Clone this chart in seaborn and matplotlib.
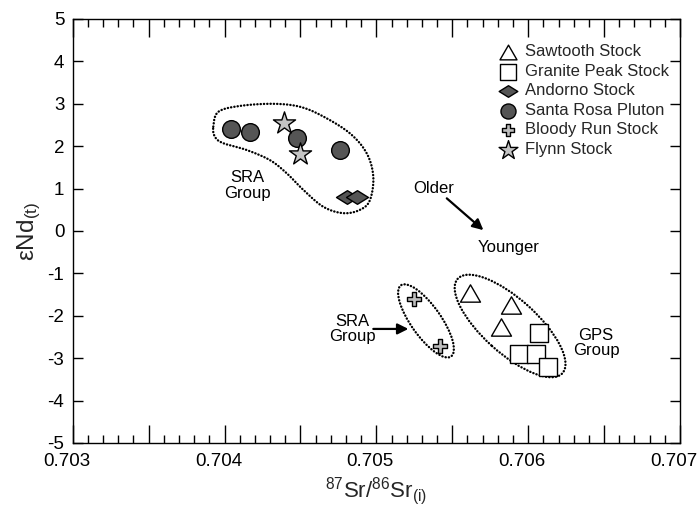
import numpy as np
import pandas as pd
import matplotlib
matplotlib.use("Agg")
import matplotlib.pyplot as plt
import seaborn as sns
from matplotlib.path import Path
from matplotlib.patches import Ellipse, PathPatch
from matplotlib.transforms import ScaledTranslation
from matplotlib.ticker import MultipleLocator, FuncFormatter

# ---------------- data ----------------
sawtooth_x = [0.70562, 0.70589, 0.70582]
sawtooth_y = [-1.47, -1.75, -2.26]
granite_x = [0.70607, 0.70594, 0.70605, 0.70613]
granite_y = [-2.40, -2.91, -2.91, -3.20]
andorno_x = [0.70481, 0.70487]
andorno_y = [0.79, 0.79]
santarosa_x = [0.70404, 0.70417, 0.70448, 0.70476]
santarosa_y = [2.41, 2.34, 2.20, 1.91]
bloody_x = [0.70525, 0.70542]
bloody_y = [-1.61, -2.71]
flynn_x = [0.70439, 0.70450]
flynn_y = [2.54, 1.82]

names = ["Sawtooth Stock", "Granite Peak Stock", "Andorno Stock",
         "Santa Rosa Pluton", "Bloody Run Stock", "Flynn Stock"]

# envelope around the upper SRA group (data coordinates)
sra_env_x = [0.703926, 0.703959, 0.704102, 0.704321, 0.704497, 0.704651, 0.704827,
             0.704937, 0.704980, 0.704958, 0.704893, 0.704783, 0.704651, 0.704519,
             0.704410, 0.704300, 0.704146, 0.703992, 0.703937]
sra_env_y = [2.46, 2.81, 2.95, 3.00, 2.93, 2.70, 2.30, 1.83, 1.28, 0.73, 0.50, 0.42,
             0.57, 0.97, 1.36, 1.67, 1.91, 2.07, 2.22]

# ---------------- style ----------------
sns.set_theme(style="white")
plt.rcParams["font.family"] = ["Liberation Sans", "DejaVu Sans"]
plt.rcParams["mathtext.fontset"] = "custom"
plt.rcParams["mathtext.rm"] = "Liberation Sans"
plt.rcParams["mathtext.it"] = "Liberation Sans:italic"

fig = plt.figure(figsize=(6.97, 5.12), dpi=100)
ax = fig.add_axes([0.1043, 0.1348, 0.8713, 0.8281])

diamond = Path([(-1, 0), (0, 0.62), (1, 0), (0, -0.62), (-1, 0)],
               [Path.MOVETO, Path.LINETO, Path.LINETO, Path.LINETO, Path.CLOSEPOLY])
triangle = Path([(0, 0.5), (-0.577, -0.5), (0.577, -0.5), (0, 0.5)],
                [Path.MOVETO, Path.LINETO, Path.LINETO, Path.CLOSEPOLY])

groups = [
    (sawtooth_x, sawtooth_y, triangle, "white", 207),
    (granite_x, granite_y, "s", "white", 165),
    (andorno_x, andorno_y, diamond, "#555555", 250),
    (santarosa_x, santarosa_y, "o", "#555555", 162),
    (bloody_x, bloody_y, "P", "#bdbdbd", 110),
    (flynn_x, flynn_y, "*", "#c4c4c4", 280),
]

for (gx, gy, mk, col, sz), name in zip(groups, names):
    df = pd.DataFrame({"x": gx, "y": gy})
    sns.scatterplot(data=df, x="x", y="y", ax=ax, marker=mk, s=sz, color=col,
                    edgecolor="black", linewidth=1.0, label=name, zorder=3)

# ---------------- envelopes ----------------
dot_style = dict(edgecolor="black", facecolor="none", linewidth=1.7,
                 linestyle=(0, (0.1, 1.3)), capstyle="round", zorder=2)

# smooth closed curve (Catmull-Rom) through envelope points
P = np.column_stack([sra_env_x, sra_env_y])
n = len(P)
curve = []
for i in range(n):
    p0, p1, p2, p3 = P[i - 1], P[i], P[(i + 1) % n], P[(i + 2) % n]
    for t in np.linspace(0, 1, 25, endpoint=False):
        t2, t3 = t * t, t * t * t
        pt = 0.5 * ((2 * p1) + (-p0 + p2) * t + (2 * p0 - 5 * p1 + 4 * p2 - p3) * t2
                    + (-p0 + 3 * p1 - 3 * p2 + p3) * t3)
        curve.append(pt)
curve.append(curve[0])
ax.add_patch(PathPatch(Path(np.array(curve)), **dot_style))

# ellipses defined in inches around a data-space centre
for cx, cy, w, h, ang in [(0.705327, -2.12, 0.87, 0.30, -54.8),
                          (0.705881, -2.24, 1.41, 0.54, -42.0)]:
    tr = fig.dpi_scale_trans + ScaledTranslation(cx, cy, ax.transData)
    ax.add_patch(Ellipse((0, 0), w, h, angle=ang, transform=tr, **dot_style))

# ---------------- annotations ----------------
txt = dict(fontsize=12, ha="center", va="center", linespacing=1.05, color="black")
ax.text(0.704152, 1.07, "SRA\nGroup", **txt)
ax.text(0.70484, -2.31, "SRA\nGroup", **txt)
ax.text(0.706447, -2.64, "GPS\nGroup", **txt)
ax.text(0.70538, 1.01, "Older", **txt)
ax.text(0.705874, -0.40, "Younger", **txt)
arrow = dict(arrowstyle="-|>", color="black", lw=1.6, mutation_scale=16,
             shrinkA=0, shrinkB=0)
ax.annotate("", xy=(0.705705, 0.02), xytext=(0.705464, 0.77), arrowprops=arrow)
ax.annotate("", xy=(0.705211, -2.31), xytext=(0.70498, -2.31), arrowprops=arrow)

# ---------------- axes ----------------
ax.set_xlim(0.703, 0.707)
ax.set_ylim(-5, 5)
ax.xaxis.set_major_locator(MultipleLocator(0.0005))
ax.xaxis.set_minor_locator(MultipleLocator(0.0001))
ax.yaxis.set_major_locator(MultipleLocator(1))


def xfmt(v, pos):
    k = v / 0.001
    return f"{v:.3f}" if abs(k - round(k)) < 1e-6 else ""


ax.xaxis.set_major_formatter(FuncFormatter(xfmt))
ax.yaxis.set_major_formatter(FuncFormatter(lambda v, p: f"{v:.0f}"))
ax.tick_params(which="both", direction="in", top=True, right=True, bottom=True,
               left=True, colors="black", width=1.0, labelsize=13.5)
ax.tick_params(axis="x", which="major", length=13, pad=7)
ax.tick_params(axis="x", which="minor", length=6)
ax.tick_params(axis="y", which="major", length=7, pad=6)
for sp in ax.spines.values():
    sp.set_color("black")
    sp.set_linewidth(1.0)

# x tick labels sit slightly left of their ticks in the reference
shift = ScaledTranslation(-6 / 100, 0, fig.dpi_scale_trans)
for lab in ax.get_xticklabels():
    lab.set_transform(lab.get_transform() + shift)

ax.set_xlabel(r"$^{\mathregular{87}}$Sr/$^{\mathregular{86}}$Sr$_{\mathregular{(i)}}$",
              fontsize=16, labelpad=4)
ax.set_ylabel(r"εNd$_{\mathregular{(t)}}$", fontsize=17.5, labelpad=3)

ax.legend(loc="upper left", bbox_to_anchor=(0.703, 0.940), frameon=False,
          fontsize=12, handlelength=1.0, handletextpad=0.52, labelspacing=0.27,
          borderpad=0, borderaxespad=0, markerscale=0.85)

fig.savefig("out.png", dpi=100)
